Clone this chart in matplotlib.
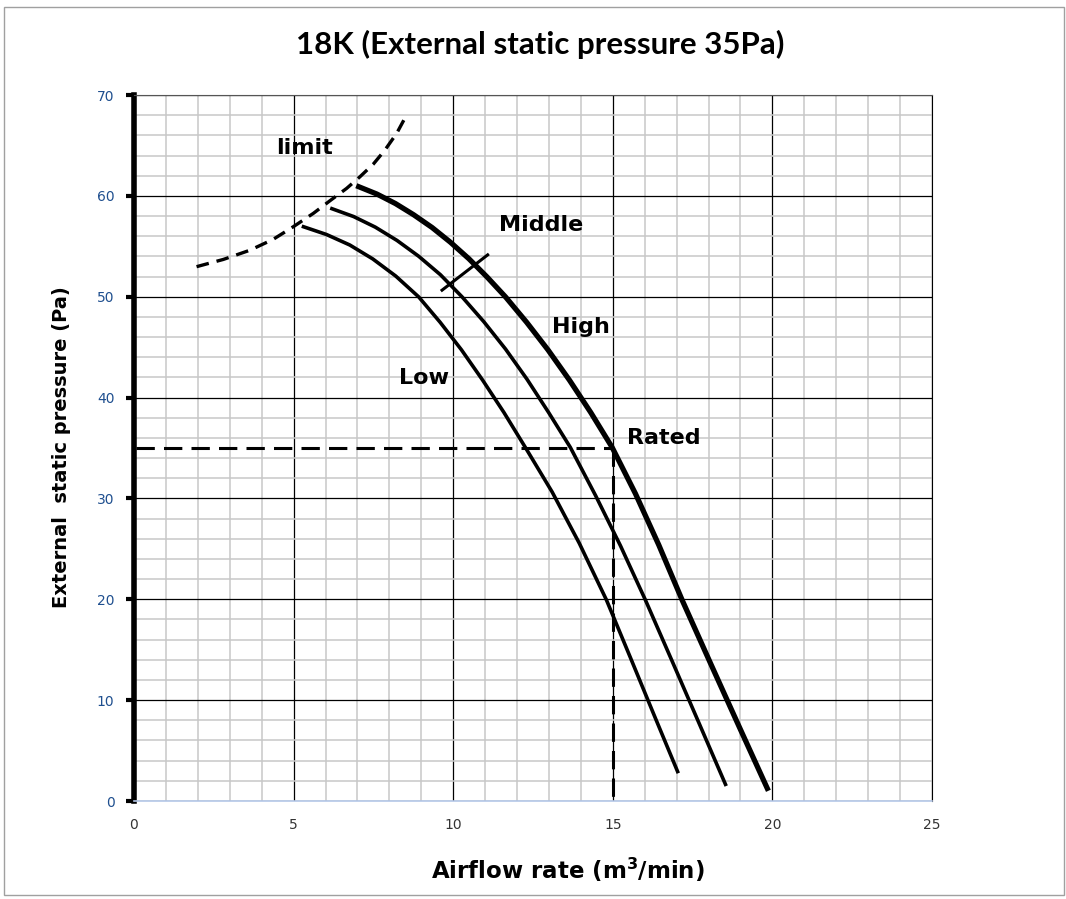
import matplotlib.pyplot as plt
from matplotlib.patches import Rectangle

# Fan curves (airflow m3/min, pressure Pa)
high_x = [7.04, 7.61, 8.19, 8.76, 9.34, 9.91, 10.49, 11.06, 11.64, 12.30, 12.97, 13.64, 14.31,
          14.98, 15.71, 16.44, 17.17, 18.06, 18.95, 19.84]
high_y = [60.91, 60.18, 59.24, 58.13, 56.86, 55.41, 53.77, 51.96, 49.98, 47.47, 44.73, 41.74, 38.52,
          35.06, 30.47, 25.39, 19.94, 13.66, 7.43, 1.25]
mid_x = [6.20, 6.88, 7.56, 8.24, 8.92, 9.60, 10.28, 10.96, 11.64, 12.31, 12.99, 13.67, 14.46,
         15.24, 16.02, 16.86, 17.70, 18.53]
mid_y = [58.73, 57.95, 56.90, 55.58, 54.01, 52.18, 49.98, 47.52, 44.81, 41.83, 38.52, 35.06, 30.29,
         25.31, 19.94, 13.86, 7.73, 1.65]
low_x = [5.31, 6.03, 6.76, 7.48, 8.20, 8.92, 9.59, 10.26, 10.92, 11.59, 12.26, 13.10, 13.95,
         14.80, 15.55, 16.29, 17.03]
low_y = [56.94, 56.17, 55.13, 53.75, 52.05, 49.98, 47.47, 44.73, 41.74, 38.52, 35.06, 30.64, 25.56,
         19.94, 14.23, 8.55, 2.92]
limit_x = [1.96, 2.80, 3.63, 4.36, 4.99, 5.62, 6.14, 6.66, 7.08, 7.50, 7.86, 8.23, 8.54]
limit_y = [52.98, 53.70, 54.61, 55.69, 56.94, 58.27, 59.52, 60.74, 61.90, 63.16, 64.54, 66.20, 68.02]
mark_x = [9.65, 11.08]
mark_y = [50.65, 54.15]
rated_flow = 15
rated_pressure = 35

fig = plt.figure(figsize=(10.66, 8.99), dpi=100)
fig.patches.append(Rectangle((0.004, 0.004), 0.994, 0.988, transform=fig.transFigure,
                             fill=False, edgecolor="#a0a0a0", lw=1))
ax = fig.add_axes([0.1257, 0.109, 0.7486, 0.7853])

ax.set_xlim(0, 25)
ax.set_ylim(0, 70)
ax.set_xticks(range(0, 26, 5))
ax.set_yticks(range(0, 71, 10))
ax.set_xticks([v for v in range(0, 26) if v % 5], minor=True)
ax.set_yticks([v for v in range(0, 71, 2) if v % 10], minor=True)
ax.grid(which="minor", color="#c8c8c8", lw=1.1)
ax.grid(which="major", color="black", lw=0.9)
ax.set_axisbelow(True)
ax.tick_params(axis="x", which="both", length=0, pad=12, labelsize=10, labelcolor="#333333")
ax.tick_params(axis="y", which="major", length=6, width=3, direction="out", pad=8,
               labelsize=10, labelcolor="#1f4f8f")
ax.tick_params(axis="y", which="minor", length=0)

ax.spines["left"].set_linewidth(4)
ax.spines["bottom"].set_color("#b4c7e7")
ax.spines["bottom"].set_linewidth(1.2)
ax.spines["top"].set_color("#555555")
ax.spines["right"].set_color("black")

# Curves
ax.plot(high_x, high_y, color="black", lw=3.8, solid_joinstyle="round")
ax.plot(mid_x, mid_y, color="black", lw=2.6, solid_joinstyle="round")
ax.plot(low_x, low_y, color="black", lw=2.6, solid_joinstyle="round")
ax.plot(limit_x, limit_y, color="black", lw=2.4, dashes=(3.8, 2.4))
ax.plot(mark_x, mark_y, color="black", lw=2.2)

# Rated point guides
ax.plot([0.05, rated_flow], [rated_pressure, rated_pressure], color="black", lw=2.2, dashes=(6, 3))
ax.plot([rated_flow, rated_flow], [rated_pressure, 0], color="black", lw=2.2, dashes=(6, 3))

lab = dict(fontsize=16, fontweight="bold", family="DejaVu Sans", ha="center", va="center")
ax.text(5.35, 64.7, "limit", **lab)
ax.text(12.75, 57.1, "Middle", **lab)
ax.text(14.0, 47.0, "High", **lab)
ax.text(9.08, 41.9, "Low", **lab)
ax.text(16.6, 36.0, "Rated", **lab)

fig.text(0.507, 0.95, "18K (External static pressure 35Pa)", ha="center", va="center",
         fontsize=22.5, fontweight="bold", family="Lato")
fig.text(0.058, 0.503, "External  static pressure (Pa)", rotation=90, ha="center", va="center",
         fontsize=14, fontweight="bold", family="DejaVu Sans")
fig.text(0.533, 0.032, "Airflow rate (m$^\\mathbf{3}$/min)", ha="center", va="center",
         fontsize=16.5, fontweight="bold", family="DejaVu Sans")

fig.savefig("out.png", dpi=100)
